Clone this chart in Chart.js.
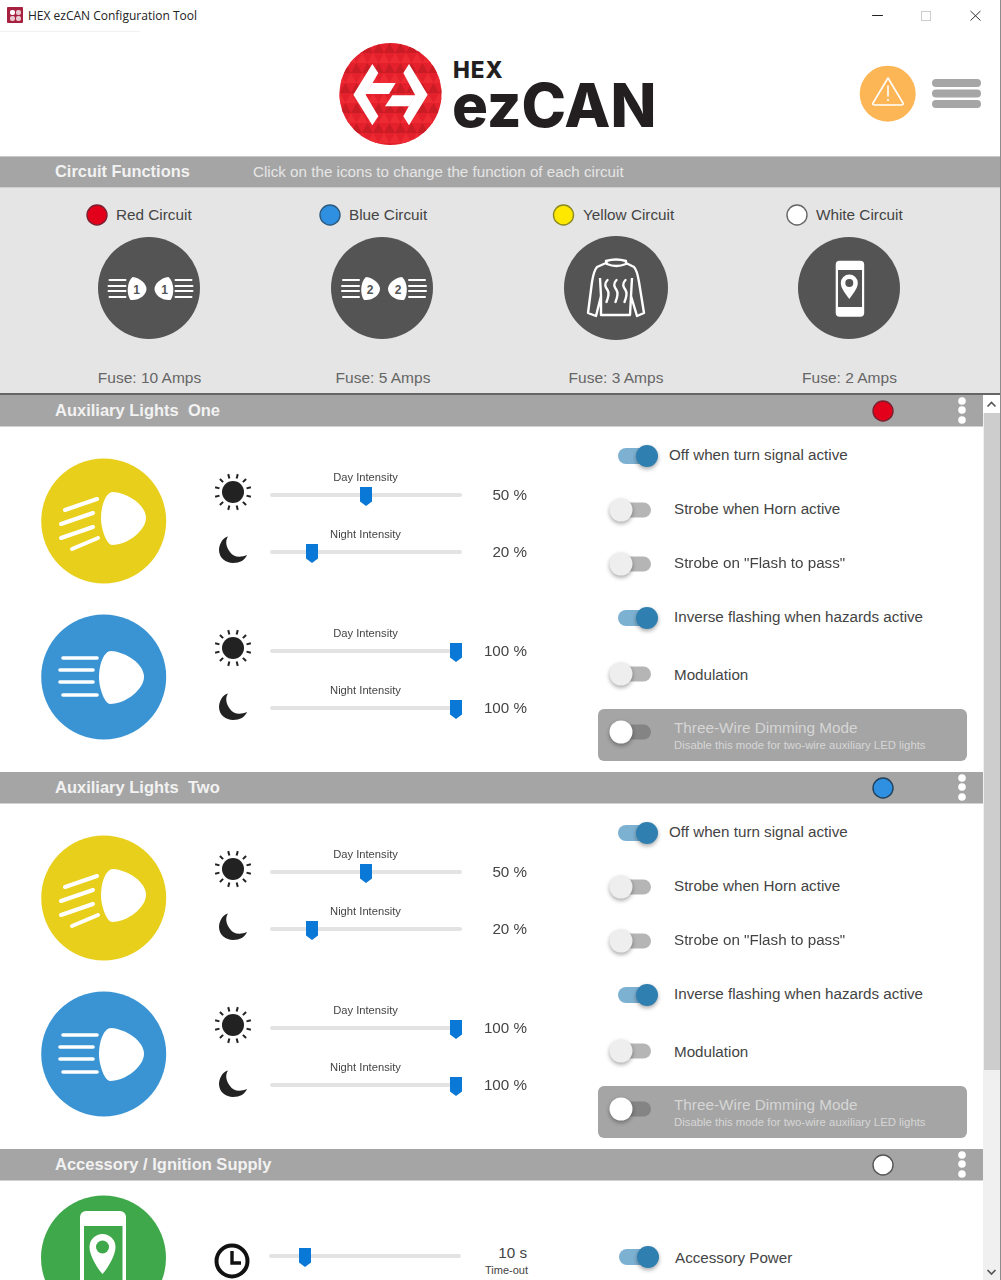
<!DOCTYPE html>
<html>
<head>
<meta charset="utf-8">
<title>HEX ezCAN Configuration Tool</title>
<script src="https://cdn.jsdelivr.net/npm/chart.js@4"></script>
<style>
    html, body { margin: 0; padding: 0; background: #fff; }
    #page { position: relative; width: 1001px; height: 1280px; overflow: hidden; font-family: "Liberation Sans", Arial, sans-serif; color: #444; }
    #art { position: absolute; left: 0; top: 0; }
    canvas { position: absolute; }
    .t { position: absolute; white-space: pre; line-height: 1; }
</style>
</head>
<body>
<div id="page"><svg id="art" width="1001" height="1280" xmlns="http://www.w3.org/2000/svg"></svg></div>
<script>
// data
const circuitNames = ["Red Circuit", "Blue Circuit", "Yellow Circuit", "White Circuit"];
const fuseAmps = [10, 5, 3, 2];
const sectionTitles = ["Auxiliary Lights  One", "Auxiliary Lights  Two", "Accessory / Ignition Supply"];
const intensityLabels = ["Day Intensity", "Night Intensity", "Day Intensity", "Night Intensity"];
const auxOneIntensity = [50, 20, 100, 100];
const auxTwoIntensity = [50, 20, 100, 100];
const timeoutSeconds = [10];
const timeoutMax = 60;
const toggleLabels = ["Off when turn signal active", "Strobe when Horn active", "Strobe on \"Flash to pass\"", "Inverse flashing when hazards active", "Modulation"];
const auxOneToggles = [1, 0, 0, 1, 0, 0];
const auxTwoToggles = [1, 0, 0, 1, 0, 0];
const accessoryToggles = [1];

const page = document.getElementById("page");
const art = document.getElementById("art");
let svg = "";

function label(text, x, y, size, color, opts) {
    opts = opts || {};
    const el = document.createElement("div");
    el.className = "t";
    el.textContent = text;
    el.style.left = x + "px";
    el.style.top = y + "px";
    el.style.fontSize = size + "px";
    el.style.color = color;
    if (opts.weight) el.style.fontWeight = opts.weight;
    if (opts.family) el.style.fontFamily = opts.family;
    if (opts.spacing) el.style.letterSpacing = opts.spacing;
    if (opts.lineHeight) el.style.lineHeight = opts.lineHeight;
    const ax = opts.align === "center" ? "-50%" : opts.align === "right" ? "-100%" : "0";
    el.style.transform = `translate(${ax},-50%)`;
    page.appendChild(el);
}

function dot(cx, cy, r, fill, stroke) {
    svg += `<circle cx="${cx}" cy="${cy}" r="${r}" fill="${fill}" ${stroke ? `stroke="${stroke}" stroke-width="1.4"` : ""}/>`;
}

function rect(x, y, w, h, fill, rx) {
    svg += `<rect x="${x}" y="${y}" width="${w}" height="${h}" fill="${fill}" rx="${rx || 0}"/>`;
}

function lines(list, color, width) {
    list.forEach(l => {
        svg += `<line x1="${l[0]}" y1="${l[1]}" x2="${l[2]}" y2="${l[3]}" stroke="${color}" stroke-width="${width}" stroke-linecap="round"/>`;
    });
}

function sun(cx, cy) {
    dot(cx, cy, 11, "#222");
    for (let i = 0; i < 12; i++) {
        const a = (i + 0.5) * Math.PI / 6;
        svg += `<line x1="${cx + 14 * Math.cos(a)}" y1="${cy + 14 * Math.sin(a)}" x2="${cx + 18.5 * Math.cos(a)}" y2="${cy + 18.5 * Math.sin(a)}" stroke="#222" stroke-width="2"/>`;
    }
}

function moon(dy) {
    svg += `<path transform="translate(0,${dy})" fill="#222" d="M228 536.5 C222 538 219 545 219 550 C219 558 226 563 233 563 C240 563 245 560 247 555 C240 558 233 557 230 552 C226 547 225 541 228 536.5 Z"/>`;
}

// small lamp with beam lines, used on the circuit buttons
function beamIcon(cx, cy, digit) {
    [-1, 1].forEach(side => {
        const sx = v => cx + side * v;
        svg += `<path fill="#fff" d="M${sx(18)} ${cy - 12} C${sx(10)} ${cy - 11} ${sx(4)} ${cy - 5} ${sx(4)} ${cy} C${sx(4)} ${cy + 6} ${sx(12)} ${cy + 12} ${sx(20)} ${cy + 11} C${sx(24)} ${cy + 6} ${sx(24)} ${cy - 7} ${sx(18)} ${cy - 12} Z"/>`;
        lines([[sx(25), cy - 9, sx(41), cy - 9], [sx(25), cy - 3, sx(42), cy - 3], [sx(25), cy + 2, sx(42), cy + 2], [sx(25), cy + 8, sx(41), cy + 8]], "#fff", 2);
        label(digit, sx(14), cy + 1, 12, "#545454", { weight: "bold", align: "center" });
    });
}

function pin(cx, cy, r, tip, hole, fill, holeFill) {
    svg += `<path fill="${fill}" d="M${cx - r} ${cy} A${r} ${r} 0 1 1 ${cx + r} ${cy} C${cx + r} ${cy + r * 0.7} ${cx + r * 0.3} ${tip - 4} ${cx} ${tip} C${cx - r * 0.3} ${tip - 4} ${cx - r} ${cy + r * 0.7} ${cx - r} ${cy} Z"/>`;
    dot(cx, cy, hole, holeFill);
}

// ---------- chrome ----------
rect(7, 7, 16, 16, "#a8203f", 1);
rect(10, 10, 5, 5, "#fff", 2);
rect(16, 10, 5, 5, "#e8c9d0", 2);
rect(10, 16, 5, 5, "#e8c9d0", 2);
rect(16, 16, 5, 5, "#e8c9d0", 2);
rect(0, 31, 140, 1, "#f1f1f1");
lines([[872.5, 15.5, 882.5, 15.5]], "#222", 1);
svg += `<rect x="921.5" y="11.5" width="9" height="9" fill="none" stroke="#ccc"/>`;
svg += `<path d="M970.5 11 L980.5 20.5 M980.5 11 L970.5 20.5" stroke="#333" stroke-width="1" fill="none"/>`;
rect(1000, 0, 1, 1280, "#8c8c8c");

// logo, triangle texture under the white arrows
svg += `<defs><pattern id="tri" width="11" height="20" patternUnits="userSpaceOnUse" x="340" y="43">
<path d="M0 10 L5.5 0 L11 10 Z" fill="#c91c25"/><path d="M5.5 20 L11 10 L16.5 20 Z M-5.5 20 L0 10 L5.5 20 Z" fill="#ee2a33"/></pattern></defs>`;
dot(390.5, 94, 51, "#e3202b");
dot(390.5, 94, 51, "url(#tri)");
const logoPts = (list) => list.map(p => `${335 + p[0] / 3},${38 + p[1] / 3}`).join(" ");
[
    [[112, 78], [130, 105], [92, 170], [130, 235], [112, 262], [55, 170]],
    [[222, 78], [278, 170], [222, 262], [205, 235], [240, 170], [205, 105]],
    [[112, 135], [182, 135], [162, 168], [92, 168]],
    [[172, 172], [240, 172], [222, 205], [150, 205]]
].forEach(p => { svg += `<polygon points="${logoPts(p)}" fill="#fff"/>`; });
label("HEX", 453, 69.5, 22.5, "#231f20", { weight: 800, family: "Inter", spacing: "1px", lineHeight: 0.7 });
label("ezCAN", 452, 105, 60, "#231f20", { weight: 800, family: "Inter", lineHeight: 0.75 });

// warning and menu buttons
dot(887.7, 93.7, 28, "#fdb655");
svg += `<path d="M888 78 L903 103 Q904 105 901 105 L875 105 Q872 105 873 103 Z" fill="none" stroke="#fff" stroke-width="1.6" stroke-linejoin="round"/>`;
lines([[888, 86, 888, 96]], "#fff", 1.6);
dot(888, 100, 1.1, "#fff");
[79, 89.5, 100].forEach(y => rect(932, y, 49, 8, "#a6a6a6", 4));

// ---------- circuit functions ----------
rect(0, 156, 1000, 1, "#c9c9c9");
rect(0, 157, 1000, 30, "#a5a5a5");
rect(0, 187, 1000, 207, "#e5e5e5");
rect(0, 187, 1000, 1, "#d0d0d0");
rect(0, 393, 1000, 2, "#666");
label("Circuit Functions", 55, 171, 16.4, "#f2f2f2", { weight: "bold" });
label("Click on the icons to change the function of each circuit", 253, 171.5, 15.2, "#e6e6e6");

const circuitDotX = [97, 330, 563.5, 797];
const circuitDotFill = ["#e2001a", "#2f8fe0", "#ffe800", "#ffffff"];
const circuitDotStroke = ["#7a2030", "#2a5a80", "#8a8a20", "#666"];
const circuitTextX = [116, 349, 583, 816];
const circuitCenterX = [149, 382, 616, 849];
const fuseX = [149.5, 383, 616, 849.5];
circuitNames.forEach((name, i) => {
    dot(circuitDotX[i], 215, 10, circuitDotFill[i], circuitDotStroke[i]);
    label(name, circuitTextX[i], 214.5, 15.3, "#444");
    dot(circuitCenterX[i], 288, i === 2 ? 52 : 51, "#545454");
    label(`Fuse: ${fuseAmps[i]} Amps`, fuseX[i], 378, 15.5, "#666", { align: "center" });
});
beamIcon(150.5, 289, "1");
beamIcon(384, 289, "2");

// heated jacket
svg += `<path fill="none" stroke="#fff" stroke-width="2.4" stroke-linejoin="round" d="M607 264 Q616 268 626 264 L626 261 Q616 258 606 261 Z M606 263 L597 267 Q594 270 592 282 L588 313 L596 316 L601 296 L601 315 L630 315 L631 296 L637 316 L644 313 L639 282 Q637 270 634 267 L626 263 M601 296 L600 278 M631 296 L632 278"/>`;
[607.5, 616.5, 625.5].forEach(x => {
    svg += `<path fill="none" stroke="#fff" stroke-width="2.4" stroke-linecap="round" d="M${x} 280 C${x - 4} 284 ${x - 2} 287 ${x} 290 C${x + 2} 293 ${x + 1} 297 ${x - 1} 302"/>`;
});

// phone
rect(835.7, 260.7, 28.5, 56, "#fff", 4);
rect(838, 270, 24, 37, "#545454");
pin(849.3, 283, 8.5, 299, 4, "#fff", "#545454");

// ---------- sections ----------
const sectionTop = [395, 772, 1149];
const sectionDotFill = ["#e2001a", "#2f8fe0", "#ffffff"];
const sectionDotStroke = ["#7a2030", "#20405c", "#555"];
sectionTitles.forEach((title, i) => {
    const top = sectionTop[i];
    rect(0, top, 983, 31.5, "#a5a5a5");
    label(title, 55, top + 15, 16.5, "#f2f2f2", { weight: "bold" });
    dot(883, top + 16, 10, sectionDotFill[i], sectionDotStroke[i]);
    [6, 15, 25].forEach(d => dot(962, top + d, 3.8, "#fff"));
});

function auxArt(dy) {
    dot(103.7, 521 + dy, 62.5, "#e8cf1c");
    svg += `<path transform="translate(0,${dy})" fill="#fff" d="M113 492 C128 493 146 505 146 518 C146 530 128 545 112 545 C107 545 101 530 101 518 C101 505 106 492 113 492 Z"/>`;
    lines([[65, 510, 97, 499], [61, 524, 93, 513], [61, 538, 93, 527], [72, 549, 98, 538]].map(l => [l[0], l[1] + dy, l[2], l[3] + dy]), "#fff", 4);
    dot(103.7, 677 + dy, 62.5, "#3a94d3");
    svg += `<path transform="translate(-2,${159 + dy})" fill="#fff" d="M113 492 C128 493 146 505 146 518 C146 530 128 545 112 545 C107 545 101 530 101 518 C101 505 106 492 113 492 Z"/>`;
    lines([[63, 658, 97, 658], [60, 670, 93, 670], [60, 682, 93, 682], [63, 695, 97, 695]].map(l => [l[0], l[1] + dy, l[2], l[3] + dy]), "#fff", 3.6);
    sun(233, 492 + dy);
    moon(dy);
    sun(233, 648 + dy);
    moon(157 + dy);
    rect(598, 709 + dy, 369, 52, "#a5a5a5", 6);
}
auxArt(0);
auxArt(377);

// accessory section art
dot(103.5, 1258, 62.5, "#3ea84a");
rect(80, 1211, 46, 90, "#fff", 6);
rect(84, 1226, 38.5, 70, "#3ea84a");
pin(102.5, 1247, 13, 1274, 6.5, "#fff", "#3ea84a");
svg += `<circle cx="232" cy="1261" r="15.5" fill="none" stroke="#111" stroke-width="4"/>`;
svg += `<path d="M232 1251 L232 1263 L241 1263" fill="none" stroke="#111" stroke-width="3.4"/>`;

// scrollbar
rect(983, 395, 17, 885, "#f0f0f0");
rect(983, 395, 17, 18, "#fff");
rect(984, 413, 16, 657, "#cdcdcd");
svg += `<path d="M987.5 406.5 L991.5 402.5 L995.5 406.5" fill="none" stroke="#555" stroke-width="1.6"/>`;
svg += `<path d="M987.5 1270 L991.5 1274 L995.5 1270" fill="none" stroke="#555" stroke-width="1.6"/>`;

art.innerHTML += svg;

// ---------- Chart.js controls ----------
function thumbImage() {
    const c = document.createElement("canvas");
    c.width = 14; c.height = 24;
    const g = c.getContext("2d");
    g.fillStyle = "#0a78d7";
    g.beginPath();
    g.moveTo(1, 4); g.lineTo(13, 4); g.lineTo(13, 18.5); g.lineTo(7, 23); g.lineTo(1, 18.5);
    g.closePath();
    g.fill();
    return c;
}

function knobImage(fill) {
    const c = document.createElement("canvas");
    c.width = 36; c.height = 36;
    const g = c.getContext("2d");
    g.shadowColor = "rgba(0,0,0,0.35)";
    g.shadowBlur = 4;
    g.shadowOffsetY = 2;
    g.fillStyle = fill;
    g.beginPath();
    g.arc(18, 18, fill === "#2f7fb0" ? 11 : 11.5, 0, Math.PI * 2);
    g.fill();
    return c;
}

// track of a control, spanning the chart area plus its overhang
const trackPlugin = {
    id: "track",
    beforeDatasetsDraw(chart, args, o) {
        const a = chart.chartArea;
        const ctx = chart.ctx;
        const h = o.height;
        ctx.save();
        ctx.fillStyle = o.color;
        ctx.beginPath();
        ctx.roundRect(a.left - o.before, (a.top + a.bottom) / 2 - h / 2, a.right - a.left + o.before + o.after, h, h / 2);
        ctx.fill();
        ctx.restore();
    }
};

function controlChart(left, top, width, height, pad, min, max, value, image, track) {
    const canvas = document.createElement("canvas");
    canvas.width = width;
    canvas.height = height;
    canvas.style.left = left + "px";
    canvas.style.top = top + "px";
    canvas.style.width = width + "px";
    canvas.style.height = height + "px";
    page.appendChild(canvas);
    return new Chart(canvas, {
        type: "scatter",
        data: { datasets: [{ data: [{ x: value, y: 0 }], pointStyle: image, pointRadius: 10, clip: false }] },
        options: {
            responsive: false,
            animation: false,
            devicePixelRatio: 1,
            layout: { padding: { left: pad, right: pad, top: 0, bottom: 0 } },
            scales: {
                x: { type: "linear", display: false, min: min, max: max },
                y: { type: "linear", display: false, min: -1, max: 1 }
            },
            plugins: { legend: { display: false }, tooltip: { enabled: false }, track: track }
        },
        plugins: [trackPlugin]
    });
}

function slider(xZero, y, min, max, value) {
    controlChart(xZero - 12, y - 15, 204, 30, 12, min, max, value, thumbImage(), { color: "#e3e3e3", height: 4, before: 6, after: 6 });
}

// same scale for on and off: off sits at xOff, on sits 26px further
function toggle(xOff, y, on, disabled) {
    const track = disabled ? "#848484" : on ? "#7db1d2" : "#b5b5b5";
    const knob = disabled ? "#ffffff" : on ? "#2f7fb0" : "#eeeeee";
    controlChart(xOff - 18, y - 18, 62, 36, 18, 0, 1, on, knobImage(knob), { color: track, height: on ? 16 : 15, before: 3, after: on ? 3 : 4 });
}

const sliderRowY = [495, 552, 651, 708];
const intensityLabelY = [477.5, 534.5, 633.5, 690.5];
const toggleRowY = [456, 510, 564, 618, 674];
const toggleTextX = [669, 674, 674, 674, 674];
const toggleTextY = [455, 509, 563, 617, 674.5];

function auxControls(values, toggles, dy) {
    values.forEach((v, i) => {
        slider(276, sliderRowY[i] + dy, 0, 100, v);
        label(intensityLabels[i], 365.5, intensityLabelY[i] + dy, 11.2, "#444", { align: "center" });
        label(`${v} %`, 527, sliderRowY[i] + dy, 15.2, "#444", { align: "right" });
    });
    toggleLabels.forEach((text, i) => {
        toggle(621, toggleRowY[i] + dy, toggles[i], false);
        label(text, toggleTextX[i], toggleTextY[i] + dy, 15.2, "#444");
    });
    toggle(621, 732 + dy, toggles[5], true);
    label("Three-Wire Dimming Mode", 674, 728 + dy, 15.3, "#d6d6d6");
    label("Disable this mode for two-wire auxiliary LED lights", 674, 745.5 + dy, 11.35, "#d6d6d6");
}

auxControls(auxOneIntensity, auxOneToggles, 0);
auxControls(auxTwoIntensity, auxTwoToggles, 377);

slider(275, 1255.5, 0, timeoutMax, timeoutSeconds[0]);
label(`${timeoutSeconds[0]} s`, 527, 1253, 15.2, "#444", { align: "right" });
label("Time-out", 528, 1270, 11, "#444", { align: "right" });
toggle(622, 1257, accessoryToggles[0], false);
label("Accessory Power", 675, 1257.5, 15.2, "#444");

// window title last so it stays on top
label("HEX ezCAN Configuration Tool", 28, 16, 12, "#222", { family: "'Open Sans'" });
</script>
</body>
</html>
